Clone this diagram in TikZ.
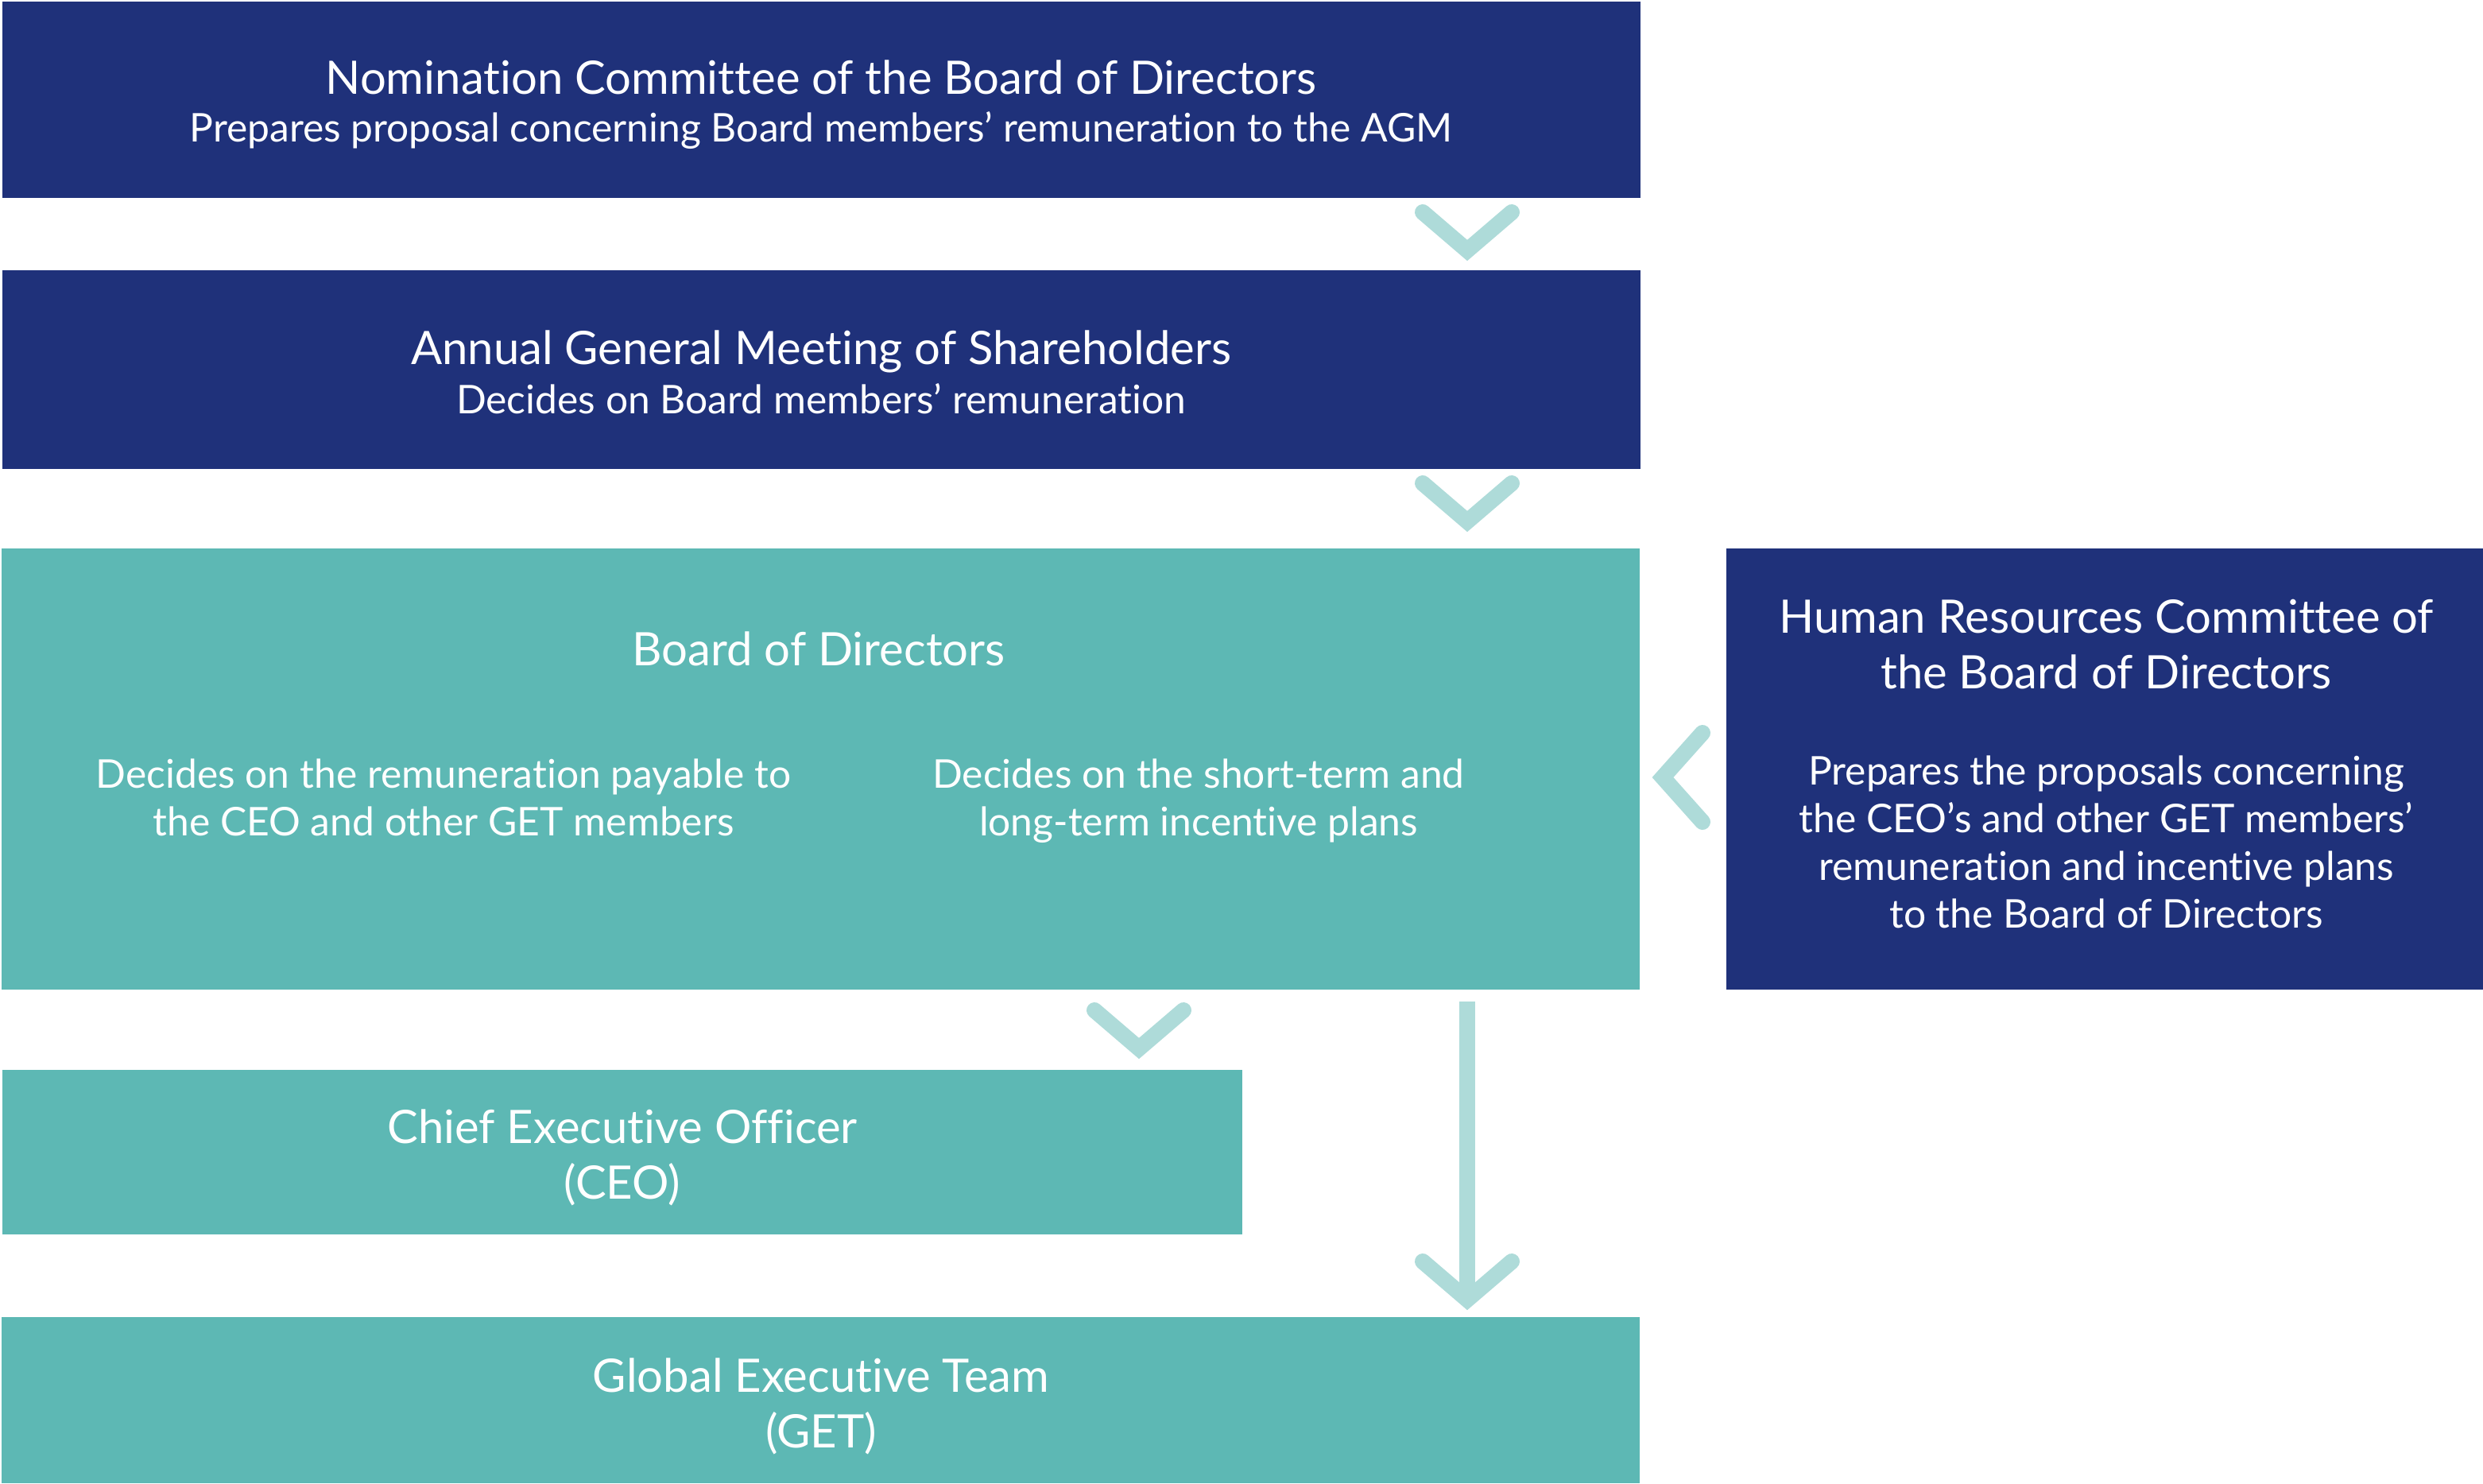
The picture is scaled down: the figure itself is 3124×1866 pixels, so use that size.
\documentclass[tikz,border=0pt]{standalone}
\usepackage{fontspec}
\setmainfont{Lato}[Ligatures=NoCommon]

\definecolor{boardnavy}{HTML}{1F317A}
\definecolor{boardteal}{HTML}{5DB8B4}
\definecolor{chevteal}{HTML}{AEDBD9}

\newcommand\titlefont{\fontsize{16.5}{19.9}\selectfont}
\newcommand\bodyfont{\fontsize{14.15}{17.07}\selectfont}

\begin{document}
\begin{tikzpicture}[x=0.01cm, y=-0.01cm,
  navybox/.style={fill=boardnavy, draw=none, inner sep=0pt, outer sep=0pt},
  tealbox/.style={fill=boardteal, draw=none, inner sep=0pt, outer sep=0pt},
  titletxt/.style={text=white, inner sep=0pt, align=center, font=\titlefont},
  bodytxt/.style={text=white, inner sep=0pt, align=center, font=\bodyfont},
  chev/.style={draw=chevteal, line width=0.2cm, line cap=round, line join=miter},
  shaft/.style={draw=chevteal, line width=0.2cm}]

\useasboundingbox (0,0) rectangle (3124,1866);

% boxes
\node[navybox, minimum width=20.59cm, minimum height=2.47cm] (nom) at (1033.5,125.5) {};
\node[navybox, minimum width=20.59cm, minimum height=2.50cm] (agm) at (1033.5,465) {};
\node[tealbox, minimum width=20.59cm, minimum height=5.55cm] (board) at (1032.5,967.5) {};
\node[navybox, minimum width=9.52cm, minimum height=5.55cm] (hr) at (2648,967.5) {};
\node[tealbox, minimum width=15.60cm, minimum height=2.07cm] (ceo) at (783,1449.5) {};
\node[tealbox, minimum width=20.59cm, minimum height=2.09cm] (get) at (1032.5,1761.5) {};

% texts
\node[titletxt, anchor=base] (nomT) at (1033,118) {Nomination Committee of the Board of Directors};
\node[bodytxt, anchor=base] (nomB) at (1033,178) {Prepares proposal concerning Board members’ remuneration to the AGM};

\node[titletxt, anchor=base] (agmT) at (1033,458) {Annual General Meeting of Shareholders};
\node[bodytxt, anchor=base] (agmB) at (1033,520) {Decides on Board members’ remuneration};

\node[titletxt, anchor=base] (boardT) at (1030,837) {Board of Directors};
\node[bodytxt, anchor=north] (boardL) at (558,954) {Decides on the remuneration payable to\\the CEO and other GET members};
\node[bodytxt, anchor=north] (boardR) at (1508,954) {Decides on the short-term and\\long-term incentive plans};

\node[titletxt, anchor=north] (hrT) at (2650,753) {Human Resources Committee of\\the Board of Directors};
\node[bodytxt, anchor=north] (hrB) at (2650,950) {Prepares the proposals concerning\\the CEO’s and other GET members’\\remuneration and incentive plans\\to the Board of Directors};

\node[titletxt, anchor=north] (ceoT) at (783,1395) {Chief Executive Officer\\(CEO)};
\node[titletxt, anchor=north] (getT) at (1033,1708) {Global Executive Team\\(GET)};

% chevrons
\coordinate (t1) at (1846,315);
\coordinate (t2) at (1846,656);
\coordinate (t3) at (1433,1319);
\coordinate (t5) at (1846,1635);
\coordinate (t6) at (2092,978);

\draw[chev] (t1) ++(-56,-48) -- (t1) -- ++(56,-48);
\draw[chev] (t2) ++(-56,-48) -- (t2) -- ++(56,-48);
\draw[chev] (t3) ++(-56,-48) -- (t3) -- ++(56,-48);
\draw[chev] (t6) ++(50,-56) -- (t6) -- ++(50,56);

% board to GET
\draw[shaft, shorten <=0.15cm, shorten >=0.22cm] (board.south -| t5) -- (get.north -| t5);
\draw[chev] (t5) ++(-56,-48) -- (t5) -- ++(56,-48);

\end{tikzpicture}
\end{document}
